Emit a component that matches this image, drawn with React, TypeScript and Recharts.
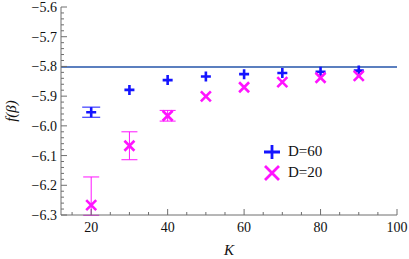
import React from 'react';
import { ComposedChart, Scatter, XAxis, YAxis, ErrorBar, ReferenceLine } from 'recharts';

const kValues = [20, 30, 40, 50, 60, 70, 80, 90];
const d60Values = [-5.954, -5.879, -5.846, -5.834, -5.826, -5.822, -5.818, -5.814];
const d60Errors: (number | number[] | null)[] = [0.017, null, null, null, null, null, null, null];
const d20Values = [-6.267, -6.067, -5.966, -5.901, -5.87, -5.853, -5.838, -5.832];
const d20Errors: (number | number[] | null)[] = [[0.034, 0.095], 0.047, 0.018, null, null, null, null, null];
const referenceValue = -5.802;

const xMajorTicks = [20, 40, 60, 80, 100];
const yMajorTicks = [-6.3, -6.2, -6.1, -6.0, -5.9, -5.8, -5.7, -5.6];
const yLabels = ['−6.3', '−6.2', '−6.1', '−6.0', '−5.9', '−5.8', '−5.7', '−5.6'];
const legendNames = ['D=60', 'D=20'];

const xTicks: number[] = [];
for (let v = 15; v <= 100; v += 5) xTicks.push(v);
const yTicks: number[] = [];
for (let i = 0; i <= 35; i++) yTicks.push(Math.round((-6.3 + i * 0.02) * 1000) / 1000);

const d60Data = kValues.map((k, i) => ({ k, v: d60Values[i], e: d60Errors[i] }));
const d20Data = kValues.map((k, i) => ({ k, v: d20Values[i], e: d20Errors[i] }));

const FRAME = '#6e6e6e';
const BLUE = '#1414ff';
const MAGENTA = '#ff14ff';
const FONT = 'Liberation Serif, serif';

const isXMajor = (v: number) => xMajorTicks.includes(v);
const yMajorIndex = (v: number) => yMajorTicks.findIndex((t) => Math.abs(t - v) < 1e-6);

const XM = 17;
const XTickBottom = (props: any) => {
  const { x, y, payload } = props;
  const axisY = y - XM;
  const major = isXMajor(payload.value);
  return (
    <g>
      <line x1={x} x2={x} y1={axisY} y2={axisY - (major ? 6 : 3)} stroke={FRAME} strokeWidth={1} />
      {major && (
        <text x={x} y={axisY + XM} textAnchor="middle" fontFamily={FONT} fontSize={14} fill="#111">
          {payload.value}
        </text>
      )}
    </g>
  );
};
const XTickTop = (props: any) => {
  const { x, y, payload } = props;
  const major = isXMajor(payload.value);
  return <line x1={x} x2={x} y1={y} y2={y + (major ? 6 : 3)} stroke={FRAME} strokeWidth={1} />;
};
const YM = 4;
const YTickLeft = (props: any) => {
  const { x, y, payload } = props;
  const axisX = x + YM;
  const idx = yMajorIndex(payload.value);
  const major = idx >= 0;
  return (
    <g>
      <line x1={axisX} x2={axisX + (major ? 6 : 3)} y1={y} y2={y} stroke={FRAME} strokeWidth={1} />
      {major && (
        <text x={x} y={y + 5} textAnchor="end" fontFamily={FONT} fontSize={14} fill="#111">
          {yLabels[idx]}
        </text>
      )}
    </g>
  );
};
const YTickRight = (props: any) => {
  const { x, y, payload } = props;
  const major = yMajorIndex(payload.value) >= 0;
  return <line x1={x} x2={x - (major ? 6 : 3)} y1={y} y2={y} stroke={FRAME} strokeWidth={1} />;
};

const PlusShape = (props: any) => {
  const { cx, cy } = props;
  if (cx == null || cy == null) return <g />;
  const s = 5;
  return (
    <path d={`M${cx - s},${cy}H${cx + s}M${cx},${cy - s}V${cy + s}`} stroke={BLUE} strokeWidth={2.6} fill="none" />
  );
};
const CrossShape = (props: any) => {
  const { cx, cy } = props;
  if (cx == null || cy == null) return <g />;
  const s = 5;
  return (
    <path
      d={`M${cx - s},${cy - s}L${cx + s},${cy + s}M${cx - s},${cy + s}L${cx + s},${cy - s}`}
      stroke={MAGENTA}
      strokeWidth={2.6}
      fill="none"
    />
  );
};

const LegendBox = () => (
  <div style={{ position: 'absolute', left: 262, top: 141, fontFamily: FONT, fontSize: 15, color: '#111', lineHeight: 1 }}>
    <div style={{ display: 'flex', alignItems: 'center', height: 21 }}>
      <svg width={20} height={20}>
        <path d="M2,10H18M10,3V17" stroke={BLUE} strokeWidth={2.8} fill="none" />
      </svg>
      <span style={{ marginLeft: 6 }}>{legendNames[0]}</span>
    </div>
    <div style={{ display: 'flex', alignItems: 'center', height: 21 }}>
      <svg width={20} height={20}>
        <path d="M3,3L17,17M3,17L17,3" stroke={MAGENTA} strokeWidth={2.8} fill="none" />
      </svg>
      <span style={{ marginLeft: 6 }}>{legendNames[1]}</span>
    </div>
  </div>
);

export default function App() {
  return (
    <div style={{ position: 'fixed', left: 0, top: 0, width: 409, height: 259, background: '#fff' }}>
      <ComposedChart width={409} height={259} margin={{ top: 7, right: 12, left: 0, bottom: 0 }}>
        <XAxis
          dataKey="k"
          type="number"
          domain={[12.1, 100]}
          ticks={xTicks}
          allowDataOverflow
          interval={0}
          height={44}
          tickSize={0}
          tickMargin={XM}
          tickLine={false}
          tick={<XTickBottom />}
          axisLine={{ stroke: FRAME }}
          label={{
            content: (p: any) => {
              const vb = p.viewBox;
              return (
                <text
                  x={vb.x + vb.width / 2}
                  y={vb.y + 40}
                  textAnchor="middle"
                  fontFamily={FONT}
                  fontStyle="italic"
                  fontSize={15}
                  fill="#111"
                >
                  K
                </text>
              );
            },
          }}
        />
        <XAxis
          xAxisId="top"
          orientation="top"
          type="number"
          domain={[12.1, 100]}
          ticks={xTicks}
          allowDataOverflow
          interval={0}
          height={0}
          tickSize={0}
          tickMargin={0}
          tickLine={false}
          tick={<XTickTop />}
          axisLine={{ stroke: FRAME }}
        />
        <YAxis
          type="number"
          domain={[-6.3, -5.6]}
          ticks={yTicks}
          allowDataOverflow
          interval={0}
          width={61}
          tickSize={0}
          tickMargin={YM}
          tickLine={false}
          tick={<YTickLeft />}
          axisLine={{ stroke: FRAME }}
          label={{
            content: (p: any) => {
              const vb = p.viewBox;
              const cy = vb.y + vb.height / 2;
              return (
                <text
                  x={11}
                  y={cy}
                  transform={`rotate(-90 11 ${cy})`}
                  textAnchor="middle"
                  dominantBaseline="central"
                  fontFamily={FONT}
                  fontStyle="italic"
                  fontSize={15}
                  fill="#111"
                >
                  f(β)
                </text>
              );
            },
          }}
        />
        <YAxis
          yAxisId="right"
          orientation="right"
          type="number"
          domain={[-6.3, -5.6]}
          ticks={yTicks}
          allowDataOverflow
          interval={0}
          width={0}
          tickSize={0}
          tickMargin={0}
          tickLine={false}
          tick={<YTickRight />}
          axisLine={{ stroke: FRAME }}
        />
        <ReferenceLine y={referenceValue} stroke="#5b7fbf" strokeWidth={2.2} />
        <Scatter name="D=60" data={d60Data} dataKey="v" shape={<PlusShape />} isAnimationActive={false}>
          <ErrorBar dataKey="e" direction="y" width={9} stroke={BLUE} strokeWidth={1} />
        </Scatter>
        <Scatter name="D=20" data={d20Data} dataKey="v" shape={<CrossShape />} isAnimationActive={false}>
          <ErrorBar dataKey="e" direction="y" width={8} stroke={MAGENTA} strokeWidth={1} />
        </Scatter>
      </ComposedChart>
      <LegendBox />
    </div>
  );
}
